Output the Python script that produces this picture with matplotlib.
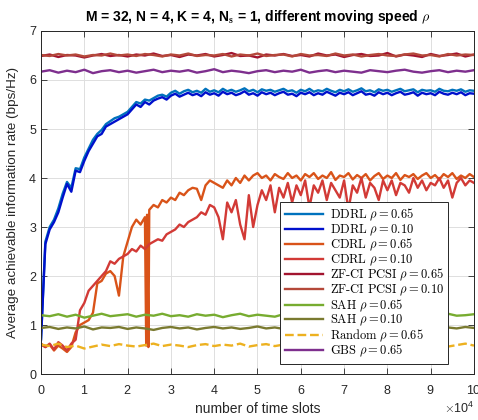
import numpy as np
import matplotlib
matplotlib.use("Agg")
import matplotlib.pyplot as plt

# values, time axis in units of 1e4 slots
zf65 = [6.49, 6.52, 6.47, 6.51, 6.50, 6.46, 6.50, 6.53, 6.49, 6.51, 6.48, 6.52, 6.50, 6.54, 6.49, 6.51, 6.47,
        6.52, 6.50, 6.53, 6.48, 6.51, 6.55, 6.49, 6.50, 6.46, 6.52, 6.50, 6.53, 6.49, 6.51, 6.48, 6.54, 6.50,
        6.52, 6.47, 6.51, 6.53, 6.49, 6.50, 6.55, 6.48, 6.52, 6.50, 6.47, 6.53, 6.49, 6.51, 6.54, 6.48, 6.52]
zf10 = [6.51, 6.49, 6.53, 6.50, 6.52, 6.48, 6.51, 6.50, 6.54, 6.50, 6.52, 6.49, 6.53, 6.51, 6.48, 6.52, 6.50,
        6.54, 6.49, 6.51, 6.50, 6.53, 6.48, 6.52, 6.50, 6.54, 6.49, 6.51, 6.52, 6.48, 6.53, 6.50, 6.51, 6.49,
        6.54, 6.50, 6.52, 6.48, 6.51, 6.53, 6.50, 6.49, 6.52, 6.54, 6.50, 6.51, 6.48, 6.53, 6.50, 6.52, 6.51]
gbs = [6.17, 6.20, 6.15, 6.19, 6.16, 6.21, 6.14, 6.18, 6.20, 6.16, 6.19, 6.15, 6.18, 6.21, 6.16, 6.19, 6.17,
       6.20, 6.15, 6.18, 6.22, 6.16, 6.19, 6.17, 6.14, 6.18, 6.20, 6.16, 6.19, 6.17, 6.21, 6.15, 6.18, 6.20,
       6.16, 6.19, 6.17, 6.15, 6.20, 6.18, 6.16, 6.19, 6.21, 6.17, 6.15, 6.18, 6.20, 6.16, 6.19, 6.17, 6.20]
sah65 = [1.20, 1.18, 1.22, 1.17, 1.21, 1.15, 1.19, 1.23, 1.18, 1.20, 1.22, 1.17, 1.21, 1.19, 1.23, 1.18, 1.20,
         1.17, 1.22, 1.19, 1.21, 1.16, 1.20, 1.23, 1.18, 1.21, 1.19, 1.17, 1.22, 1.20, 1.18, 1.23, 1.19, 1.21,
         1.17, 1.20, 1.22, 1.18, 1.21, 1.24, 1.19, 1.20, 1.17, 1.22, 1.20, 1.18, 1.21, 1.23, 1.19, 1.20, 1.22]
sah10 = [0.94, 0.96, 0.92, 0.95, 0.93, 0.97, 0.91, 0.95, 0.94, 0.96, 0.92, 0.95, 0.93, 0.90, 0.94, 0.96, 0.93,
         0.95, 0.91, 0.94, 0.96, 0.93, 0.95, 0.92, 0.94, 0.97, 0.93, 0.95, 0.92, 0.94, 0.96, 0.93, 0.91, 0.95,
         0.94, 0.92, 0.96, 0.94, 0.93, 0.95, 0.92, 0.94, 0.96, 0.93, 0.95, 0.94, 0.92, 0.95, 0.93, 0.96, 0.94]
random65 = [0.60, 0.57, 0.62, 0.55, 0.58, 0.52, 0.56, 0.60, 0.57, 0.61, 0.58, 0.56, 0.59, 0.62, 0.57, 0.60, 0.58,
            0.55, 0.59, 0.61, 0.57, 0.60, 0.58, 0.62, 0.56, 0.59, 0.61, 0.57, 0.60, 0.58, 0.55, 0.59, 0.62, 0.58,
            0.60, 0.57, 0.61, 0.59, 0.56, 0.60, 0.58, 0.62, 0.57, 0.59, 0.61, 0.58, 0.60, 0.56, 0.59, 0.62, 0.58]

ddrl10 = [0.70, 2.65, 2.95, 3.10, 3.30, 3.60, 3.88, 3.72, 4.15, 4.12,
          4.35, 4.55, 4.70, 4.85, 4.90, 5.05, 5.10, 5.15, 5.20, 5.25,
          5.30, 5.40, 5.50, 5.45, 5.55, 5.50, 5.58, 5.62, 5.65, 5.60,
          5.68, 5.72, 5.66, 5.70, 5.74, 5.69, 5.72, 5.67, 5.75, 5.70,
          5.73, 5.68, 5.76, 5.71, 5.74, 5.69, 5.72, 5.77, 5.70, 5.73,
          5.68, 5.75, 5.71, 5.74, 5.69, 5.73, 5.76, 5.70, 5.72, 5.67,
          5.74, 5.71, 5.75, 5.69, 5.73, 5.70, 5.76, 5.72, 5.68, 5.74,
          5.71, 5.75, 5.69, 5.73, 5.77, 5.70, 5.72, 5.68, 5.75, 5.71,
          5.74, 5.69, 5.73, 5.76, 5.70, 5.72, 5.75, 5.68, 5.74, 5.71,
          5.73, 5.69, 5.76, 5.72, 5.70, 5.74, 5.71, 5.75, 5.69, 5.73, 5.72]
ddrl65 = [0.72, 2.70, 3.00, 3.15, 3.38, 3.68, 3.92, 3.80, 4.20, 4.18,
          4.42, 4.60, 4.78, 4.90, 4.98, 5.10, 5.16, 5.22, 5.25, 5.30,
          5.35, 5.45, 5.55, 5.52, 5.60, 5.58, 5.63, 5.68, 5.70, 5.66,
          5.74, 5.78, 5.72, 5.77, 5.80, 5.75, 5.78, 5.74, 5.82, 5.76,
          5.79, 5.75, 5.82, 5.77, 5.80, 5.76, 5.79, 5.83, 5.77, 5.80,
          5.75, 5.81, 5.78, 5.80, 5.76, 5.79, 5.82, 5.77, 5.79, 5.74,
          5.80, 5.77, 5.82, 5.76, 5.79, 5.77, 5.82, 5.78, 5.75, 5.80,
          5.77, 5.81, 5.76, 5.79, 5.83, 5.77, 5.79, 5.75, 5.81, 5.78,
          5.80, 5.76, 5.79, 5.82, 5.77, 5.79, 5.81, 5.75, 5.80, 5.78,
          5.79, 5.76, 5.82, 5.78, 5.77, 5.80, 5.78, 5.81, 5.76, 5.79, 5.78]

cdrl10 = [0.60, 0.55, 0.62, 0.50, 0.65, 0.58, 0.48, 0.62, 0.70, 1.30,
          1.45, 1.70, 1.80, 1.90, 2.00, 2.10, 2.30, 2.25, 2.35, 2.40,
          2.45, 2.55, 2.50, 2.62, 2.55, 2.65, 2.70, 2.75, 2.72, 2.85,
          2.90, 2.95, 3.05, 3.00, 3.10, 3.15, 3.20, 3.30, 3.25, 3.45,
          3.40, 3.20, 2.75, 3.50, 3.30, 3.55, 3.05, 2.75, 3.65, 3.00,
          3.45, 3.75, 3.55, 3.85, 3.30, 3.80, 3.60, 3.90, 3.50, 3.85,
          3.65, 3.95, 3.40, 3.85, 3.70, 3.95, 3.55, 3.90, 3.75, 3.60,
          3.95, 3.35, 3.85, 3.70, 4.00, 3.60, 3.90, 3.80, 3.55, 3.95,
          3.75, 3.95, 3.65, 3.90, 3.85, 3.70, 4.00, 3.80, 3.95, 3.75,
          3.90, 3.85, 4.00, 3.80, 3.95, 3.60, 3.90, 4.00, 3.85, 3.95, 3.90]
cdrl65 = [0.62, 0.55, 0.60, 0.48, 0.58, 0.52, 0.45, 0.55, 0.85, 1.00,
          1.05, 1.10, 1.25, 1.85, 1.90, 2.05, 2.10, 2.00, 1.60, 2.40,
          2.70, 3.00, 3.15, 3.05, 3.20, 3.35, 3.45, 3.40, 3.55, 3.50,
          3.60, 3.55, 3.70, 3.65, 3.75, 3.80, 3.78, 3.55, 3.85, 3.95,
          3.90, 3.85, 3.80, 3.95, 3.85, 4.00, 3.90, 4.05, 3.95, 4.05,
          4.10, 4.00, 4.05, 3.95, 4.08, 4.02, 3.98, 4.10, 4.00, 4.05,
          3.95, 4.08, 4.02, 4.10, 3.98, 4.05, 4.00, 4.12, 3.96, 4.05,
          4.02, 4.10, 3.97, 4.06, 4.00, 4.08, 3.95, 4.04, 4.10, 3.98,
          4.05, 4.00, 4.10, 3.96, 4.06, 4.02, 4.08, 3.98, 4.05, 4.10,
          4.00, 4.06, 3.97, 4.08, 4.02, 4.10, 3.98, 4.05, 4.00, 4.08, 4.02]
# the narrow double drop of CDRL rho=0.65 near 2.45e4 slots
cdrl65_dip_t = [2.43, 2.45, 2.48]
cdrl65_dip_v = [0.58, 3.25, 0.55]


def slots(vals):
    return np.linspace(0, 10, len(vals)) * 1e4


t_c65 = np.concatenate([np.linspace(0, 10, len(cdrl65)), cdrl65_dip_t])
v_c65 = np.concatenate([cdrl65, cdrl65_dip_v])
order = np.argsort(t_c65)
t_c65, v_c65 = t_c65[order] * 1e4, v_c65[order]

series = [
    (r"$\mathrm{DDRL}\ \rho = 0.65$", slots(ddrl65), ddrl65, "#0072BD", "-"),
    (r"$\mathrm{DDRL}\ \rho = 0.10$", slots(ddrl10), ddrl10, "#0010CC", "-"),
    (r"$\mathrm{CDRL}\ \rho = 0.65$", t_c65, v_c65, "#D95319", "-"),
    (r"$\mathrm{CDRL}\ \rho = 0.10$", slots(cdrl10), cdrl10, "#D23A36", "-"),
    (r"$\mathrm{ZF\text{-}CI\ PCSI}\ \rho = 0.65$", slots(zf65), zf65, "#A2142F", "-"),
    (r"$\mathrm{ZF\text{-}CI\ PCSI}\ \rho = 0.10$", slots(zf10), zf10, "#B4483A", "-"),
    (r"$\mathrm{SAH}\ \rho = 0.65$", slots(sah65), sah65, "#77AC30", "-"),
    (r"$\mathrm{SAH}\ \rho = 0.10$", slots(sah10), sah10, "#7A7A30", "-"),
    (r"$\mathrm{Random}\ \rho = 0.65$", slots(random65), random65, "#EDB120", "--"),
    (r"$\mathrm{GBS}\ \rho = 0.65$", slots(gbs), gbs, "#7E2F8E", "-"),
]

plt.rcParams["font.family"] = ["Liberation Sans", "DejaVu Sans"]
plt.rcParams["mathtext.fontset"] = "cm"

fig = plt.figure(figsize=(4.78, 4.2), dpi=100)
ax = fig.add_axes([0.0858, 0.1095, 0.9058, 0.8167])

for label, t, v, col, ls in series:
    ax.plot(t, v, ls, color=col, lw=1.7, label=label)

ax.set_xlim(0, 1e5)
ax.set_ylim(0, 7)
ax.set_xticks(np.arange(0, 1.01e5, 1e4))
ax.set_yticks(range(0, 8))
ax.ticklabel_format(axis="x", style="sci", scilimits=(4, 4), useMathText=True)
ax.grid(True, color="#dedede", lw=0.7)
ax.set_axisbelow(True)
ax.tick_params(direction="in", top=True, right=True, labelsize=9, colors="#262626", length=4, width=0.6)
ax.tick_params(axis="x", pad=7)
for sp in ax.spines.values():
    sp.set_color("#262626")
    sp.set_linewidth(0.7)
ax.xaxis.get_offset_text().set_fontsize(9)

ax.set_xlabel("number of time slots", fontsize=10, color="#262626", labelpad=4)
ax.set_ylabel("Average achievable information rate (bps/Hz)", fontsize=9.7, color="#262626", labelpad=7)
ax.set_title(r"M = 32, N = 4, K = 4, N$_{\mathbf{s}}$ = 1, different moving speed $\rho$",
             fontsize=10, fontweight="bold", pad=7)

leg = ax.legend(loc="lower right", bbox_to_anchor=(0.94, 0.03), fontsize=9.0,
                fancybox=False, framealpha=1, edgecolor="#262626", handlelength=3.1,
                labelspacing=-0.06, borderpad=0.35, handletextpad=0.5, borderaxespad=0)
leg.get_frame().set_linewidth(0.7)

fig.savefig("out.png", dpi=100)
